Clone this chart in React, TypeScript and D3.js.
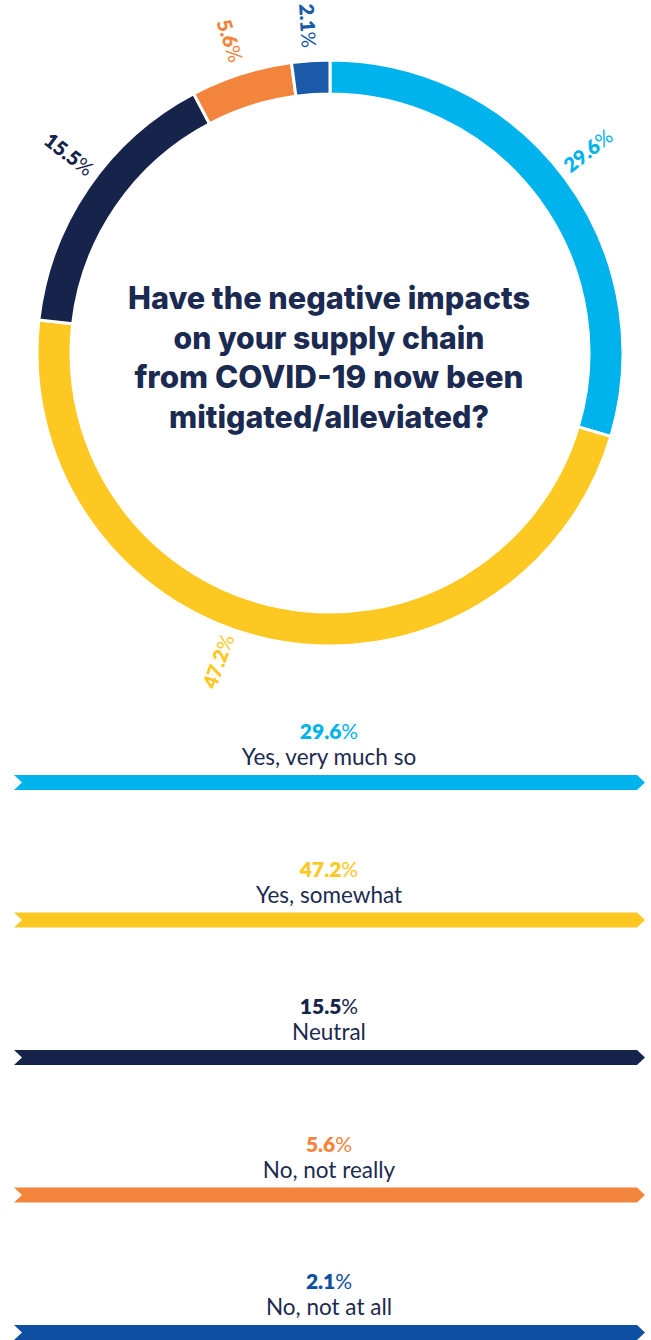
import React from "react";
import * as d3 from "d3";

const categories = ["Yes, very much so", "Yes, somewhat", "Neutral", "No, not really", "No, not at all"];
const values = [29.6, 47.2, 15.5, 5.6, 2.1];
const donutColors = ["#00b3ec", "#fdc822", "#16244b", "#f3843b", "#1a5aa8"];
const legendColors = ["#00b3ec", "#fdc822", "#16244b", "#f3843b", "#0e4fa1"];
const titleLines = [
  "Have the negative impacts",
  "on your supply chain",
  "from COVID-19 now been",
  "mitigated/alleviated?",
];
const titleWidths = [402, 311, 389, 320];
const labelAngleShift = [-1.5, 8.5, 3, 0, 0];

const W = 651;
const H = 1340;
const cx = 330;
const cy = 353;
const outerR = 293;
const innerR = 259;
const labelR = 328;
const navy = "#1b2a50";

export default function App() {
  const pie = d3.pie<number>().sort(null).value((d) => d);
  const arcs = pie(values);
  const arcGen = d3.arc<d3.PieArcDatum<number>>().innerRadius(innerR).outerRadius(outerR);

  const barTop = d3.scaleLinear().domain([0, values.length - 1]).range([775, 1325]);

  const fmt = (v: number) => v.toFixed(1);

  return (
    <svg
      width={W}
      height={H}
      style={{ position: "absolute", left: 0, top: 0, background: "#fff" }}
      fontFamily="Lato, 'Open Sans', sans-serif"
    >
      <g transform={`translate(${cx},${cy})`}>
        {arcs.map((a, i) => (
          <path key={i} d={arcGen(a) || ""} fill={donutColors[i]} stroke="#fff" strokeWidth={3} />
        ))}
        {arcs.map((a, i) => {
          const midDeg = ((a.startAngle + a.endAngle) / 2) * (180 / Math.PI) + labelAngleShift[i];
          const rad = (midDeg * Math.PI) / 180;
          const x = Math.sin(rad) * labelR;
          const y = -Math.cos(rad) * labelR;
          const rot = midDeg <= 180 ? midDeg - 90 : midDeg - 270;
          return (
            <text
              key={i}
              transform={`translate(${x},${y}) rotate(${rot})`}
              textAnchor="middle"
              dominantBaseline="central"
              fontSize={20}
              fill={donutColors[i]}
            >
              <tspan fontWeight={800}>{fmt(values[i])}</tspan>
              <tspan fontWeight={400}>%</tspan>
            </text>
          );
        })}
      </g>
      <g fontFamily="Inter, sans-serif" fontWeight={800} fill={navy} fontSize={31.5} textAnchor="middle">
        {titleLines.map((t, i) => (
          <text
            key={i}
            x={329}
            y={309 + i * 39.7}
            textLength={titleWidths[i]}
            lengthAdjust="spacingAndGlyphs"
          >
            {t}
          </text>
        ))}
      </g>
      {categories.map((c, i) => {
        const top = barTop(i);
        const h = 15;
        const x0 = 14;
        const x1 = 637;
        const tip = 8;
        const pts = [
          [x0, top],
          [x1, top],
          [x1 + tip, top + h / 2],
          [x1, top + h],
          [x0, top + h],
          [x0 + tip, top + h / 2],
        ];
        return (
          <g key={c}>
            <text x={329} y={top - 36} textAnchor="middle" fontSize={21} fill={legendColors[i]}>
              <tspan fontWeight={800}>{fmt(values[i])}</tspan>
              <tspan fontWeight={400}>%</tspan>
            </text>
            <text x={329} y={top - 10} textAnchor="middle" fontSize={22.5} fill={navy} fontWeight={400}>
              {c}
            </text>
            <polygon points={pts.map((p) => p.join(",")).join(" ")} fill={legendColors[i]} />
          </g>
        );
      })}
    </svg>
  );
}
